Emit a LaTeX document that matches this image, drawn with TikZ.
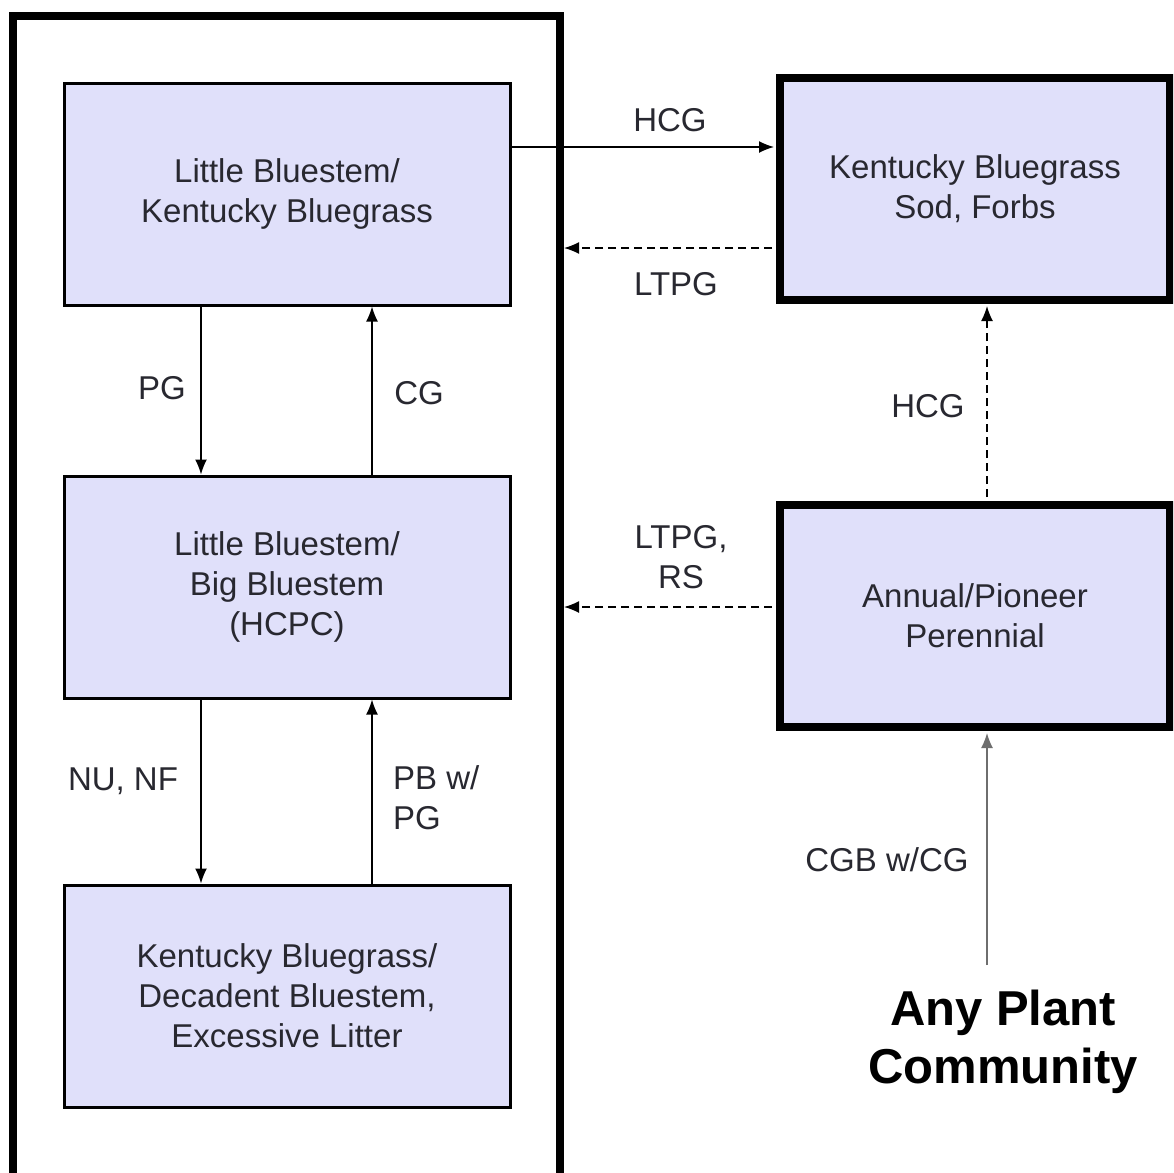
\documentclass[tikz,border=0pt]{standalone}
\usepackage{fontspec}
\setmainfont{Liberation Sans}
\usetikzlibrary{arrows.meta}
\definecolor{boxfill}{RGB}{224,224,250}
\definecolor{txt}{RGB}{40,40,48}
\definecolor{grayline}{RGB}{110,110,110}
\begin{document}
\begin{tikzpicture}[x=1pt,y=-1pt,
  stbox/.style={draw=black,fill=boxfill,line width=3pt,minimum width=446pt,minimum height=222pt,
    align=center,text=txt,font=\fontsize{33}{40}\selectfont,inner sep=0pt},
  bigbox/.style={stbox,line width=8pt,minimum width=390pt},
  lab/.style={text=txt,font=\fontsize{33}{40}\selectfont,align=center,inner sep=0pt},
  arr/.style={line width=1.5pt,-{Latex[length=15pt,width=12pt]}},
  darr/.style={arr,dash pattern=on 8pt off 5pt}]
\useasboundingbox (0,0) rectangle (1173,1173);
\clip (0,0) rectangle (1173,1173);
\fill[white] (0,0) rectangle (1173,1173);
% outer frame
\draw[line width=8pt] (13,16) rectangle (560,1200);
\coordinate (fr1) at (564,248);
\coordinate (fr2) at (564,607);
\coordinate (hy) at (0,147);
% boxes
\node[stbox] (b1) at (287,194) {Little Bluestem/\\Kentucky Bluegrass};
\node[stbox] (b2) at (287,587) {Little Bluestem/\\Big Bluestem\\(HCPC)};
\node[stbox] (b3) at (287,996) {Kentucky Bluegrass/\\Decadent Bluestem,\\Excessive Litter};
\node[bigbox] (sod) at (975,189) {Kentucky Bluegrass\\Sod, Forbs};
\node[bigbox] (ann) at (975,616) {Annual/Pioneer\\Perennial};
\node[font=\fontsize{49}{58}\selectfont\bfseries,align=center,inner sep=0pt] (any) at (1003,1042) {Any Plant\\Community};
\coordinate (anytop) at (987,965);
% connectors
\draw[arr] (b1.south -| 201,0) -- (b2.north -| 201,0);
\draw[arr] (b2.north -| 372,0) -- (b1.south -| 372,0);
\draw[arr] (b2.south -| 201,0) -- (b3.north -| 201,0);
\draw[arr] (b3.north -| 372,0) -- (b2.south -| 372,0);
\draw[arr] (b1.east |- hy) -- ([xshift=-2pt]sod.west |- hy);
\draw[darr] ([xshift=-4pt]sod.west |- fr1) -- (fr1);
\draw[darr] ([xshift=-4pt]ann.west |- fr2) -- (fr2);
\draw[darr] ([yshift=4pt]ann.north -| anytop) -- ([yshift=-2pt]sod.south -| anytop);
\draw[arr,draw=grayline] (anytop) -- ([yshift=-2pt]ann.south -| anytop);
% labels
\node[lab] (lpg) at (162,388) {PG};
\node[lab] (lcg) at (419,393) {CG};
\node[lab] (lnu) at (123,781) {NU, NF};
\node[lab,align=left,anchor=west] (lpb) at (393,798) {PB w/\\PG};
\node[lab] (lhcg1) at (670,120) {HCG};
\node[lab] (lltpg) at (676,284) {LTPG};
\node[lab] (lhcg2) at (928,406) {HCG};
\node[lab] (lltrs) at (681,557) {LTPG,\\RS};
\node[lab] (lcgb) at (887,860) {CGB w/CG};
\end{tikzpicture}
\end{document}
